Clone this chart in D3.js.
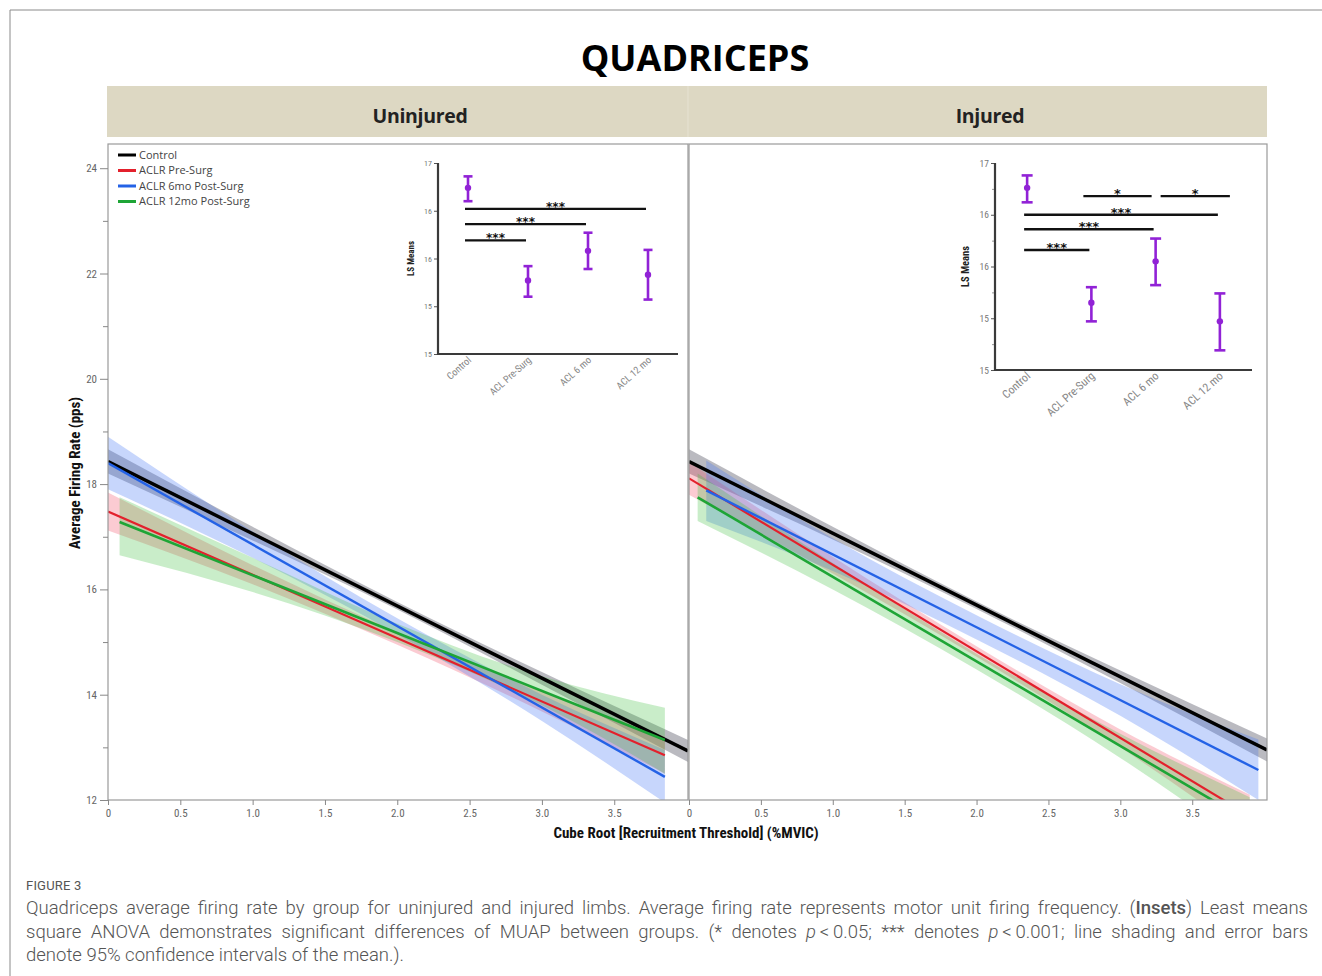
<!DOCTYPE html>
<html>
<head>
<meta charset="utf-8">
<script src="https://cdn.jsdelivr.net/npm/d3@7"></script>
<style>
body { margin: 0; background: #fff; }
#fig { position: relative; width: 1322px; height: 976px; overflow: hidden; }
#fig svg { position: absolute; left: 0; top: 0; }
.fig-label { position: absolute; left: 26px; top: 878px; font-family: Roboto, "Noto Sans", sans-serif; font-size: 13px; color: #555; letter-spacing: 0.2px; }
.caption { position: absolute; left: 26px; top: 897px; width: 1282px; font-family: Roboto, "Noto Sans", sans-serif; font-size: 18.5px; line-height: 23.5px; color: #555; font-weight: 300; }
.caption .ln { text-align: justify; text-align-last: justify; }
.caption .ln.last { text-align-last: left; }
.caption b { font-weight: 500; }
</style>
</head>
<body>
<div id="fig"></div>
<script>
// ---- data ----
const groups = ["Control", "ACLR Pre-Surg", "ACLR 6mo Post-Surg", "ACLR 12mo Post-Surg"];
const panels = ["Uninjured", "Injured"];

// fitted lines: [[x start, rate], [x end, rate]], same order as groups
const uninjuredLines = [
    [[0, 18.43], [4.01, 12.93]],
    [[0, 17.48], [3.85, 12.85]],
    [[0, 18.40], [3.85, 12.44]],
    [[0.08, 17.28], [3.85, 13.14]]
];
const injuredLines = [
    [[0, 18.43], [4.02, 12.95]],
    [[0, 18.11], [3.90, 11.70]],
    [[0.12, 17.88], [3.96, 12.57]],
    [[0.06, 17.75], [3.90, 11.58]]
];

// 95% CI shading: [x, low, high]
const uninjuredBands = [
    [[0, 18.20, 18.66], [1, 16.93, 17.19], [2, 15.62, 15.76], [3, 14.19, 14.43], [4.01, 12.72, 13.14]],
    [[0, 17.12, 17.84], [1, 16.10, 16.46], [2, 14.95, 15.19], [3, 13.68, 14.06], [3.85, 12.50, 13.20]],
    [[0, 17.90, 18.90], [1, 16.60, 17.10], [2, 15.15, 15.45], [3, 13.50, 14.00], [3.85, 11.95, 12.95]],
    [[0.08, 16.65, 17.75], [1, 15.95, 16.60], [2, 15.00, 15.35], [3, 13.80, 14.35], [3.85, 12.50, 13.75]]
];
const injuredBands = [
    [[0, 18.20, 18.66], [1, 16.95, 17.19], [2, 15.63, 15.77], [3, 14.22, 14.46], [4.02, 12.73, 13.17]],
    [[0, 17.80, 18.42], [1, 16.30, 16.62], [2, 14.72, 14.92], [3, 13.00, 13.34], [3.90, 11.30, 12.10]],
    [[0.12, 17.30, 18.45], [1, 16.35, 16.97], [2, 15.05, 15.51], [3, 13.60, 14.20], [3.96, 12.00, 13.15]],
    [[0.06, 17.30, 18.20], [1, 16.00, 16.50], [2, 14.48, 14.78], [3, 12.80, 13.26], [3.90, 11.10, 12.05]]
];

const xTicks = [0, 0.5, 1, 1.5, 2, 2.5, 3, 3.5];
const yTicks = [12, 14, 16, 18, 20, 22, 24];
const yMinorTicks = [13, 15, 17, 19, 21, 23];

// insets: LS means with 95% CI
const insetCats = ["Control", "ACL Pre-Surg", "ACL 6 mo", "ACL 12 mo"];
const insetTicks = [15, 15.5, 16, 16.5, 17];
const insetTickLabels = ["15", "15", "16", "16", "17"];

const uninjuredMeans = [16.74, 15.77, 16.08, 15.83];
const uninjuredLo = [16.60, 15.60, 15.89, 15.57];
const uninjuredHi = [16.86, 15.92, 16.27, 16.09];

const injuredMeans = [16.76, 15.65, 16.05, 15.47];
const injuredLo = [16.62, 15.47, 15.82, 15.19];
const injuredHi = [16.88, 15.80, 16.27, 15.74];

// significance bars: [from, to, level, label]
const uninjuredSig = [
    ["Control", "ACL 12 mo", 16.52, "***"],
    ["Control", "ACL 6 mo", 16.36, "***"],
    ["Control", "ACL Pre-Surg", 16.19, "***"]
];
const injuredSig = [
    ["ACL Pre-Surg", "ACL 6 mo", 16.68, "*"],
    ["ACL 6 mo", "ACL 12 mo", 16.68, "*"],
    ["Control", "ACL 12 mo", 16.50, "***"],
    ["Control", "ACL 6 mo", 16.36, "***"],
    ["Control", "ACL Pre-Surg", 16.16, "***"]
];

// ---- styles ----
const lineColors = ["#000000", "#e3202c", "#2462e6", "#1ea536"];
const bandColors = ["rgba(40,40,60,0.32)", "rgba(240,70,95,0.28)", "rgba(70,120,245,0.30)", "rgba(60,190,60,0.28)"];
const lineWidths = [3.5, 2.2, 2.4, 2.6];
const purple = "#9122d6";
const condensed = '"Liberation Sans Narrow", "Roboto Condensed", Roboto, sans-serif';

const W = 1322, H = 976;
const svg = d3.select("#fig").append("svg").attr("width", W).attr("height", H);

// outer frame (open to the right and bottom)
svg.append("path").attr("d", `M10,${H} V10 H${W}`).attr("fill", "none").attr("stroke", "#8a8a8a").attr("stroke-width", 1);

svg.append("text").attr("x", 695).attr("y", 71).attr("text-anchor", "middle")
    .style("font-family", "'Open Sans', sans-serif").style("font-weight", 700).style("font-size", "36px")
    .text("QUADRICEPS");

// strip header
const plotTop = 144, plotBottom = 800;
const panelX = [[108, 688], [689, 1267]];
const stripLabelX = [420, 990];
svg.append("rect").attr("x", 107).attr("y", 86).attr("width", 1160).attr("height", 51).attr("fill", "#ddd8c3");
svg.append("line").attr("x1", 688).attr("x2", 688).attr("y1", 86).attr("y2", 137).attr("stroke", "#e6e2d2").attr("stroke-width", 1);

const y = d3.scaleLinear().domain([12, 24.46]).range([plotBottom, plotTop]);
const xScales = [
    d3.scaleLinear().domain([0, 4.01]).range(panelX[0]),
    d3.scaleLinear().domain([0, 4.02]).range(panelX[1])
];

const allLines = [uninjuredLines, injuredLines];
const allBands = [uninjuredBands, injuredBands];

panels.forEach((name, p) => {
    const x = xScales[p];
    const [x0, x1] = panelX[p];

    svg.append("text").attr("x", stripLabelX[p]).attr("y", 123).attr("text-anchor", "middle")
        .style("font-family", "'Open Sans', sans-serif").style("font-weight", 700).style("font-size", "19.5px")
        .style("letter-spacing", "-0.3px").attr("fill", "#222")
        .text(name);

    svg.append("clipPath").attr("id", "clip" + p).append("rect")
        .attr("x", x0).attr("y", plotTop).attr("width", x1 - x0).attr("height", plotBottom - plotTop);

    const g = svg.append("g").attr("clip-path", `url(#clip${p})`);

    const area = d3.area().x(d => x(d[0])).y0(d => y(d[1])).y1(d => y(d[2])).curve(d3.curveMonotoneX);
    allBands[p].forEach((band, i) => {
        g.append("path").datum(band).attr("d", area).attr("fill", bandColors[i]);
    });

    const line = d3.line().x(d => x(d[0])).y(d => y(d[1]));
    allLines[p].forEach((ln, i) => {
        g.append("path").datum(ln).attr("d", line).attr("fill", "none")
            .attr("stroke", lineColors[i]).attr("stroke-width", lineWidths[i]);
    });

    // panel border
    svg.append("rect").attr("x", x0).attr("y", plotTop).attr("width", x1 - x0).attr("height", plotBottom - plotTop)
        .attr("fill", "none").attr("stroke", "#9a9a9a").attr("stroke-width", 1.2);

    // x axis
    const xAxis = svg.append("g").attr("transform", `translate(0,${plotBottom})`)
        .call(d3.axisBottom(x).tickValues(xTicks).tickSize(5).tickPadding(4)
            .tickFormat(d => d === 0 ? "0" : d3.format(".1f")(d)));
    xAxis.select(".domain").remove();
    xAxis.selectAll("line").attr("stroke", "#888");
    xAxis.selectAll("text").attr("fill", "#666").style("font-family", condensed).style("font-size", "11px");
});

// y axis
const yAxis = svg.append("g").attr("transform", `translate(108,0)`)
    .call(d3.axisLeft(y).tickValues(yTicks).tickSize(8).tickPadding(3));
yAxis.select(".domain").remove();
yAxis.selectAll("line").attr("stroke", "#888");
yAxis.selectAll("text").attr("fill", "#666").style("font-family", condensed).style("font-size", "11px");
const yMinor = svg.append("g").attr("transform", `translate(108,0)`)
    .call(d3.axisLeft(y).tickValues(yMinorTicks).tickSize(5).tickFormat(""));
yMinor.select(".domain").remove();
yMinor.selectAll("line").attr("stroke", "#888");

svg.append("text").attr("transform", "rotate(-90)").attr("x", -473).attr("y", 80).attr("text-anchor", "middle")
    .style("font-family", condensed).style("font-weight", 700).style("font-size", "15px").attr("fill", "#111")
    .text("Average Firing Rate (pps)");
svg.append("text").attr("x", 686).attr("y", 838).attr("text-anchor", "middle")
    .style("font-family", condensed).style("font-weight", 700).style("font-size", "15px").attr("fill", "#111")
    .text("Cube Root [Recruitment Threshold] (%MVIC)");

// legend
const legend = svg.append("g").attr("transform", "translate(118,155)");
groups.forEach((name, i) => {
    const row = legend.append("g").attr("transform", `translate(0,${i * 15.5})`);
    row.append("line").attr("x1", 0).attr("x2", 18).attr("stroke", lineColors[i]).attr("stroke-width", 3);
    row.append("text").attr("x", 21).attr("dy", "0.35em")
        .style("font-family", "'Open Sans', sans-serif").style("font-size", "11px").attr("fill", "#444")
        .text(name);
});

// ---- insets ----
function drawInset(cfg) {
    const iy = d3.scaleLinear().domain([15, 17]).range([cfg.yBot, cfg.yTop]);
    const ix = d3.scalePoint().domain(insetCats).range([cfg.x0, cfg.x1]).padding(0.5);
    const g = svg.append("g");

    if (cfg.minor) {
        g.append("g").attr("transform", `translate(${cfg.x0},0)`)
            .call(d3.axisLeft(iy).tickValues(cfg.minor).tickSize(3).tickFormat(""))
            .call(a => a.select(".domain").remove())
            .selectAll("line").attr("stroke", "#999");
    }
    const ya = g.append("g").attr("transform", `translate(${cfg.x0},0)`)
        .call(d3.axisLeft(iy).tickValues(insetTicks).tickSize(4).tickPadding(2)
            .tickFormat((d, i) => insetTickLabels[i]));
    ya.select(".domain").remove();
    ya.selectAll("line").attr("stroke", "#555");
    ya.selectAll("text").attr("fill", "#777").style("font-family", condensed).style("font-size", cfg.font + "px");

    g.append("path").attr("d", `M${cfg.x0},${cfg.yTop} V${cfg.yBot} H${cfg.x1}`)
        .attr("fill", "none").attr("stroke", "#3a3a3a").attr("stroke-width", 2.2);

    g.append("text").attr("transform", "rotate(-90)").attr("x", -(cfg.yTop + cfg.yBot) / 2).attr("y", cfg.labelX)
        .attr("text-anchor", "middle")
        .style("font-family", condensed).style("font-weight", 700).style("font-size", (cfg.font + 1) + "px").attr("fill", "#222")
        .text("LS Means");

    insetCats.forEach(c => {
        g.append("text").attr("transform", `translate(${ix(c) + 4},${cfg.yBot + 7}) rotate(-42)`)
            .attr("text-anchor", "end")
            .style("font-family", condensed).style("font-size", cfg.catFont + "px").attr("fill", "#888")
            .text(c);
    });

    // significance bars
    cfg.sig.forEach(s => {
        let a = ix(s[0]) - 3, b = ix(s[1]) - 2;
        if (s[3] === "*") {
            a = ix(s[0]) - 8; b = ix(s[1]) - 4;
            if (cfg.sig.some(o => o !== s && o[3] === "*" && o[1] === s[0])) a = ix(s[0]) + 5;
            if (!cfg.sig.some(o => o !== s && o[3] === "*" && o[0] === s[1])) b = ix(s[1]) + 10;
        }
        g.append("line").attr("x1", a).attr("x2", b).attr("y1", iy(s[2])).attr("y2", iy(s[2]))
            .attr("stroke", "#111").attr("stroke-width", 2.4);
        g.append("text").attr("x", (a + b) / 2).attr("y", iy(s[2]) + (s[3] === "*" ? 2 : 2))
            .attr("text-anchor", "middle")
            .style("font-family", "'DejaVu Sans', sans-serif").style("font-weight", 700).style("font-size", cfg.starFont + "px")
            .attr("fill", "#111").text(s[3]);
    });

    // error bars
    insetCats.forEach((c, i) => {
        const cx = ix(c);
        g.append("line").attr("x1", cx).attr("x2", cx).attr("y1", iy(cfg.lo[i])).attr("y2", iy(cfg.hi[i]))
            .attr("stroke", purple).attr("stroke-width", 2.6);
        [cfg.lo[i], cfg.hi[i]].forEach(v => {
            g.append("line").attr("x1", cx - cfg.cap).attr("x2", cx + cfg.cap).attr("y1", iy(v)).attr("y2", iy(v))
                .attr("stroke", purple).attr("stroke-width", 2.6);
        });
        g.append("circle").attr("cx", cx).attr("cy", iy(cfg.mean[i])).attr("r", 3.2).attr("fill", purple);
    });
}

drawInset({ x0: 438, x1: 678, yTop: 163, yBot: 354, labelX: 414, font: 8, catFont: 10, starFont: 12,
    cap: 4.5, mean: uninjuredMeans, lo: uninjuredLo, hi: uninjuredHi, sig: uninjuredSig });
drawInset({ x0: 995, x1: 1252, yTop: 163, yBot: 370, labelX: 969, font: 9.5, catFont: 11.5, starFont: 13,
    cap: 5.5, mean: injuredMeans, lo: injuredLo, hi: injuredHi, sig: injuredSig,
    minor: [15.25, 15.75, 16.25, 16.75] });

// caption
d3.select("#fig").append("div").attr("class", "fig-label").text("FIGURE 3");
const cap = d3.select("#fig").append("div").attr("class", "caption");
cap.append("div").attr("class", "ln")
    .html("Quadriceps average firing rate by group for uninjured and injured limbs. Average firing rate represents motor unit firing frequency. (<b>Insets</b>) Least means");
cap.append("div").attr("class", "ln")
    .html("square ANOVA demonstrates significant differences of MUAP between groups. (* denotes <i>p</i>&thinsp;&lt;&thinsp;0.05; *** denotes <i>p</i>&thinsp;&lt;&thinsp;0.001; line shading and error bars");
cap.append("div").attr("class", "ln last")
    .html("denote 95% confidence intervals of the mean.).");
</script>
</body>
</html>
